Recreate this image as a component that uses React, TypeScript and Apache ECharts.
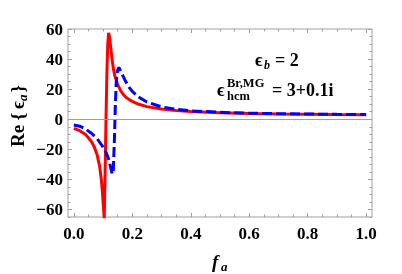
import React, { useEffect, useRef } from "react";
import * as echarts from "echarts";

// Red solid curve (f_a, Re{eps_a})
const redF = [0.0, 0.02, 0.04, 0.06, 0.07, 0.08, 0.088, 0.094, 0.098, 0.101, 0.104, 0.107, 0.110, 0.113, 0.116, 0.119, 0.122, 0.126, 0.13, 0.135, 0.14, 0.15, 0.16, 0.17, 0.18, 0.2, 0.22, 0.25, 0.3, 0.35, 0.4, 0.5, 0.6, 0.7, 0.8, 0.9, 1.0];
const redV = [-6.0, -7.6, -10.2, -14.8, -18.5, -24.0, -31.0, -40.0, -49.0, -58.0, -66.0, -35.0, 0.0, 30.0, 50.0, 57.5, 55.0, 48.0, 41.0, 34.0, 29.0, 23.0, 19.0, 16.3, 14.3, 11.8, 10.1, 8.4, 6.8, 5.8, 5.1, 4.3, 3.8, 3.5, 3.3, 3.1, 3.0];

// Blue dashed curve
const blueF = [0.0, 0.02, 0.04, 0.06, 0.08, 0.10, 0.11, 0.12, 0.126, 0.131, 0.135, 0.139, 0.142, 0.145, 0.149, 0.154, 0.158, 0.165, 0.175, 0.19, 0.2, 0.22, 0.25, 0.3, 0.35, 0.4, 0.5, 0.6, 0.7, 0.8, 0.9, 1.0];
const blueV = [-3.8, -4.6, -6.5, -9.3, -13.0, -18.5, -22.0, -27.0, -32.0, -36.5, -34.0, -12.0, 10.0, 24.0, 32.0, 34.5, 33.0, 30.0, 26.0, 21.0, 18.5, 15.0, 11.5, 8.2, 6.6, 5.6, 4.6, 4.0, 3.7, 3.45, 3.25, 3.1];

const xMajor = [0, 0.2, 0.4, 0.6, 0.8, 1.0];
const xMinor = [0.05, 0.1, 0.15, 0.25, 0.3, 0.35, 0.45, 0.5, 0.55, 0.65, 0.7, 0.75, 0.85, 0.9, 0.95];
const yMajor = [-60, -40, -20, 0, 20, 40, 60];
const yMinor = [-65, -55, -50, -45, -35, -30, -25, -15, -10, -5, 5, 10, 15, 25, 30, 35, 45, 50, 55];

const X_MIN = -0.02, X_MAX = 1.02, Y_MIN = -65, Y_MAX = 60;
const GRAY = "#a0a0a0";
const SERIF = '"Liberation Serif", "Times New Roman", serif';

function zip(a: number[], b: number[]) {
  return a.map((v, i) => [v, b[i]]);
}

function xAx(pos: string, ticks: number[], len: number, labels: boolean) {
  return {
    type: "value", position: pos, min: X_MIN, max: X_MAX,
    axisLine: { show: false, onZero: false },
    splitLine: { show: false },
    axisTick: { show: true, inside: true, length: len, lineStyle: { color: GRAY, width: 1 }, customValues: ticks },
    axisLabel: {
      show: labels, customValues: ticks, margin: 8,
      formatter: (v: number) => v.toFixed(1),
      color: "#000", fontSize: 17, fontWeight: "bold", fontFamily: SERIF,
    },
  };
}
function yAx(pos: string, ticks: number[], len: number, labels: boolean) {
  return {
    type: "value", position: pos, min: Y_MIN, max: Y_MAX,
    axisLine: { show: false, onZero: false },
    splitLine: { show: false },
    axisTick: { show: true, inside: true, length: len, lineStyle: { color: GRAY, width: 1 }, customValues: ticks },
    axisLabel: {
      show: labels, customValues: ticks, margin: 5,
      formatter: (v: number) => (v < 0 ? "\u2212" + Math.abs(v) : String(v)),
      color: "#000", fontSize: 17, fontWeight: "bold", fontFamily: SERIF,
    },
  };
}

function txt(text: string, x: number, baseline: number, size: number, italic = false, bold = true) {
  return {
    type: "text", x, y: baseline - 0.34 * size,
    style: {
      text, fill: "#000", fontSize: size, fontFamily: SERIF,
      fontWeight: bold ? "bold" : "normal", fontStyle: italic ? "italic" : "normal",
      align: "left", verticalAlign: "middle",
    },
  };
}

export default function App() {
  const ref = useRef<HTMLDivElement>(null);
  useEffect(() => {
    if (!ref.current) return;
    const chart = echarts.init(ref.current, null, { renderer: "svg" });
    const ctx = document.createElement("canvas").getContext("2d")!;
    const measure = (t: string, size: number, italic = false) => {
      ctx.font = `${italic ? "italic " : ""}bold ${size}px "Liberation Serif"`;
      return ctx.measureText(t).width;
    };
    // y title tokens laid out along rotated baseline
    const t1 = "Re {\u2009\u03f5";
    const w1 = measure(t1, 19);
    const w2 = measure("a", 13, true) + 2;
    const w3 = measure("}", 19);
    const total = w1 + w2 + w3;
    const start = -total / 2;
    const yTitle = {
      type: "group", x: 18, y: 116, rotation: Math.PI / 2,
      children: [
        txt(t1, start, 6, 19),
        txt("a", start + w1, 9, 13, true),
        txt("}", start + w1 + w2, 6, 19),
      ],
    };
    chart.setOption({
      animation: false,
      grid: { left: 68, top: 29, width: 304, height: 188, show: true, borderColor: GRAY, borderWidth: 1, backgroundColor: "transparent", containLabel: false },
      xAxis: [
        xAx("bottom", xMajor, 4, true),
        xAx("bottom", xMinor, 2.5, false),
        xAx("top", xMajor, 4, false),
        xAx("top", xMinor, 2.5, false),
      ],
      yAxis: [
        yAx("left", yMajor, 4, true),
        yAx("left", yMinor, 2.5, false),
        yAx("right", yMajor, 4, false),
        yAx("right", yMinor, 2.5, false),
      ],
      series: [
        {
          type: "line", data: [], silent: true,
          markLine: {
            silent: true, symbol: ["none", "none"], label: { show: false },
            lineStyle: { color: GRAY, width: 1, type: "solid" },
            data: [{ yAxis: 0 }],
          },
        },
        {
          type: "line", data: zip(redF, redV), showSymbol: false, symbol: "none",
          lineStyle: { color: "#ff0000", width: 3 }, clip: true,
        },
        {
          type: "line", data: zip(blueF, blueV), showSymbol: false, symbol: "none",
          lineStyle: { color: "#0000ff", width: 3, type: [10, 4] }, clip: true,
        },
      ],
      graphic: [
        yTitle,
        txt("f", 212, 268, 19, true),
        txt("a", 221, 271, 13, true),
        txt("\u03f5", 255, 66, 18),
        txt("b", 264, 69, 12, true),
        txt("= 2", 275, 66, 18),
        txt("\u03f5", 217, 96.5, 18),
        txt("Br,MG", 227, 87.5, 12.5),
        txt("hcm", 227, 100, 12.5),
        txt("= 3+0.1i", 272, 96.5, 18),
      ],
    });
    return () => chart.dispose();
  }, []);
  return <div ref={ref} style={{ position: "fixed", left: 0, top: 0, width: 402, height: 274 }} />;
}
